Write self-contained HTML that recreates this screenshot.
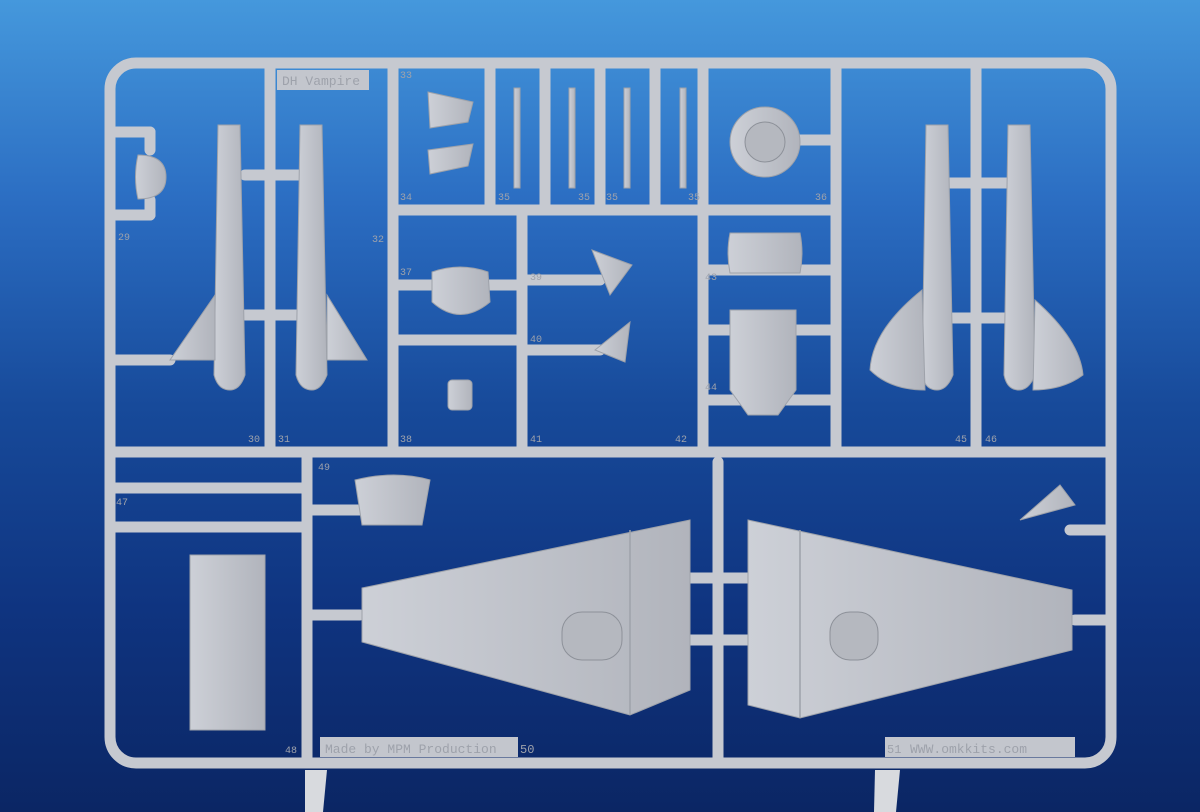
<!DOCTYPE html>
<html><head><meta charset="utf-8"><style>
html,body{margin:0;padding:0;width:1200px;height:812px;overflow:hidden}
body{background:linear-gradient(180deg,#4598dc 0%,#2b6dc2 25%,#174a9a 50%,#0f3480 75%,#0b2664 100%)}
svg{position:absolute;left:0;top:0}
text{font-family:"Liberation Mono",monospace;fill:#9ea2ab}
</style></head><body>
<svg width="1200" height="812" viewBox="0 0 1200 812">
<defs>
<linearGradient id="p" x1="0" x2="1"><stop offset="0" stop-color="#cdd0d7"/><stop offset="1" stop-color="#b1b4bc"/></linearGradient>
</defs>
<g stroke="#c6c9d0" stroke-width="11" fill="none" stroke-linecap="round">
<rect x="110" y="63" width="1001" height="700" rx="26"/>
<line x1="110" y1="452" x2="1111" y2="452"/>
<line x1="270" y1="63" x2="270" y2="452"/>
<line x1="393" y1="63" x2="393" y2="452"/>
<line x1="522" y1="210" x2="522" y2="452"/>
<line x1="703" y1="63" x2="703" y2="452"/>
<line x1="836" y1="63" x2="836" y2="452"/>
<line x1="976" y1="63" x2="976" y2="452"/>
<line x1="393" y1="210" x2="836" y2="210"/>
<line x1="393" y1="340" x2="522" y2="340"/>
<line x1="490" y1="63" x2="490" y2="210"/>
<line x1="545" y1="63" x2="545" y2="210"/>
<line x1="600" y1="63" x2="600" y2="210"/>
<line x1="655" y1="63" x2="655" y2="210"/>
<line x1="307" y1="452" x2="307" y2="763"/>
<line x1="110" y1="488" x2="307" y2="488"/>
<line x1="110" y1="527" x2="307" y2="527"/>
<line x1="718" y1="462" x2="718" y2="763"/>
<line x1="110" y1="360" x2="170" y2="360"/>
<line x1="116" y1="132" x2="150" y2="132"/>
<line x1="150" y1="132" x2="150" y2="150"/>
<line x1="116" y1="215" x2="150" y2="215"/>
<line x1="150" y1="200" x2="150" y2="215"/>
<line x1="307" y1="615" x2="360" y2="615"/>
<line x1="1070" y1="530" x2="1111" y2="530"/>
<line x1="1075" y1="620" x2="1111" y2="620"/>
<line x1="690" y1="578" x2="750" y2="578"/>
<line x1="690" y1="640" x2="750" y2="640"/>
<line x1="522" y1="280" x2="600" y2="280"/>
<line x1="522" y1="350" x2="600" y2="350"/>
<line x1="703" y1="270" x2="836" y2="270"/>
<line x1="703" y1="330" x2="836" y2="330"/>
<line x1="703" y1="400" x2="836" y2="400"/>
<line x1="393" y1="285" x2="520" y2="285"/>
<line x1="307" y1="510" x2="360" y2="510"/>
<line x1="245" y1="175" x2="300" y2="175"/>
<line x1="245" y1="315" x2="300" y2="315"/>
<line x1="950" y1="183" x2="1008" y2="183"/>
<line x1="950" y1="318" x2="1008" y2="318"/>
<line x1="800" y1="140" x2="836" y2="140"/>
</g>
<g fill="#c3c6cd">
<rect x="277" y="70" width="92" height="20"/>
<rect x="320" y="737" width="198" height="20"/>
<rect x="885" y="737" width="190" height="20"/>
</g>
<text x="282" y="85" font-size="13">DH Vampire</text>
<text x="325" y="753" font-size="13">Made by MPM Production</text>
<text x="520" y="753" font-size="12">50</text>
<text x="887" y="753" font-size="12">51</text>
<text x="910" y="753" font-size="13">WWW.omkkits.com</text>
<g font-size="10">
<text x="400" y="78">33</text><text x="400" y="200">34</text><text x="498" y="200">35</text><text x="578" y="200">35</text><text x="606" y="200">35</text><text x="688" y="200">35</text><text x="815" y="200">36</text>
<text x="400" y="275">37</text><text x="530" y="280">39</text><text x="530" y="342">40</text><text x="530" y="442">41</text><text x="675" y="442">42</text><text x="705" y="280">43</text><text x="705" y="390">44</text><text x="400" y="442">38</text>
<text x="248" y="442">30</text><text x="278" y="442">31</text><text x="955" y="442">45</text><text x="985" y="442">46</text><text x="318" y="470">49</text><text x="118" y="240">29</text><text x="372" y="242">32</text><text x="285" y="753">48</text><text x="116" y="505">47</text>
</g>
<g fill="url(#p)" stroke="#9ea2aa" stroke-width="1">
<rect x="514" y="88" width="6" height="100"/><rect x="569" y="88" width="6" height="100"/><rect x="624" y="88" width="6" height="100"/><rect x="680" y="88" width="6" height="100"/>
<path d="M218 125h22l5 250q-5 15-15 15q-12 0-16-15z"/>
<path d="M300 125h22l5 250q-6 15-15 15q-12 0-16-15z"/>
<path d="M926 125h22l5 250q-6 15-16 15q-12 0-15-15z"/>
<path d="M1008 125h22l5 250q-6 15-16 15q-12 0-15-15z"/>
<path d="M215 295l-45 65h45z"/><path d="M327 295l40 65h-40z"/>
<path d="M922 290q-50 40-52 80q20 20 55 20z"/><path d="M1035 300q45 40 48 75q-20 15-50 15z"/>
<path d="M138 155q28 0 28 22q0 22-28 22q-5-22 0-44z"/>
<path d="M428 92l45 10l-5 20l-38 6z"/><path d="M428 150l45-6l-5 22l-38 8z"/>
<circle cx="765" cy="142" r="35"/>
<path d="M432 272q28-10 56 0l2 30q-30 25-58 0z"/>
<rect x="448" y="380" width="24" height="30" rx="4"/>
<path d="M592 250l40 15l-22 30z"/><path d="M595 350l35-28l-5 40z"/>
<path d="M730 233h70q4 20 0 40h-70q-4-20 0-40z"/>
<path d="M730 310h66v80l-18 25h-30l-18-25z"/>
<path d="M355 480q40-10 75 0l-8 45h-60z"/>
<path d="M1020 520l40-35l15 20z"/>
<rect x="190" y="555" width="75" height="175"/>
<path d="M362 588L690 520V690L630 715L362 642Z"/>
<path d="M748 520L1072 590V650L800 718L748 705Z"/>
</g>
<g stroke="#9ea2aa" fill="none" stroke-width="1.5">
<path d="M630 530v185"/><path d="M800 530v188"/>
</g>
<g fill="#b5b8bf" stroke="#8d9199">
<rect x="562" y="612" width="60" height="48" rx="20"/>
<rect x="830" y="612" width="48" height="48" rx="20"/>
<circle cx="765" cy="142" r="20"/>
</g>
<g fill="#d8dade"><path d="M305 770h22l-4 42h-18z"/><path d="M875 770h25l-4 42h-22z"/></g>
</svg>
</body></html>
